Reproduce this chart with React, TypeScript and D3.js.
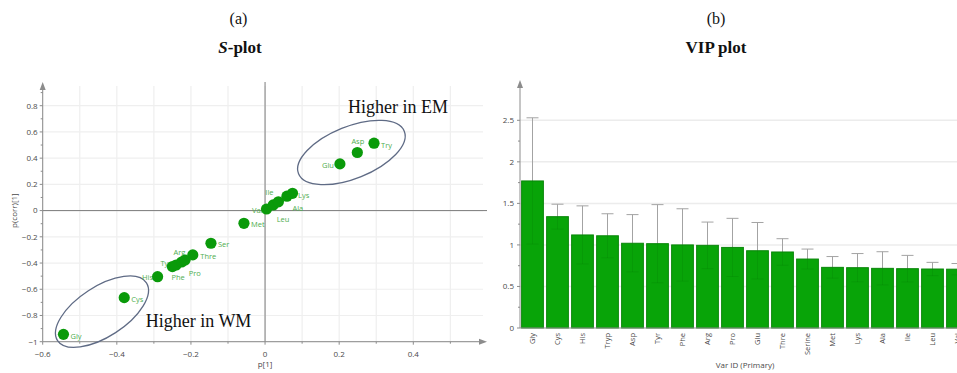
import React from "react";
import * as d3 from "d3";

const W = 957;
const H = 373;

// ---- S-plot data (p[1], p(corr)[1]) ----
const sNames = ["Gly", "Cys", "His", "Tyr", "Phe", "Pro", "Arg", "Thre", "Ser", "Met", "Val", "Leu", "Ile", "Ala", "Lys", "Glu", "Asp", "Try"];
const sP = [-0.544, -0.38, -0.29, -0.25, -0.24, -0.225, -0.216, -0.195, -0.146, -0.057, 0.004, 0.022, 0.036, 0.059, 0.074, 0.202, 0.249, 0.294];
const sPcorr = [-0.944, -0.664, -0.504, -0.427, -0.415, -0.392, -0.378, -0.338, -0.249, -0.097, 0.012, 0.043, 0.067, 0.11, 0.132, 0.356, 0.443, 0.514];
const sXTicks = [-0.6, -0.4, -0.2, 0, 0.2, 0.4];
const sYTicks = [-1, -0.8, -0.6, -0.4, -0.2, 0, 0.2, 0.4, 0.6, 0.8];

// ---- VIP plot data ----
const vipNames = ["Gly", "Cys", "His", "Tryp", "Asp", "Tyr", "Phe", "Arg", "Pro", "Glu", "Thre", "Serine", "Met", "Lys", "Ala", "Ile", "Leu", "Val"];
const vipValues = [1.77, 1.34, 1.12, 1.11, 1.02, 1.015, 1.0, 0.995, 0.97, 0.93, 0.915, 0.83, 0.73, 0.726, 0.718, 0.714, 0.71, 0.708];
const vipErr = [0.76, 0.15, 0.35, 0.265, 0.345, 0.47, 0.435, 0.28, 0.35, 0.34, 0.16, 0.12, 0.13, 0.17, 0.2, 0.16, 0.08, 0.068];
const vipYTicks = [0, 0.5, 1, 1.5, 2, 2.5];

// label placement next to each point: [dx, dy, anchor]
const labelPos: Record<string, [number, number, string]> = {
  Gly: [7, 2, "start"], Cys: [7, 1.5, "start"], His: [-4.5, 1, "end"], Tyr: [-1, -3, "end"],
  Phe: [2, 12.5, "middle"], Pro: [7, 11, "start"], Arg: [-5.5, -7.5, "middle"], Thre: [7.5, 1, "start"],
  Ser: [7, 1, "start"], Met: [7, 1, "start"], Val: [-4, 1.5, "end"], Leu: [3.5, 14, "start"],
  Ile: [-9, -9.5, "middle"], Ala: [5.5, 12.5, "start"], Lys: [5.5, 2, "start"], Glu: [-6, 1, "end"],
  Asp: [0.5, -11.5, "middle"], Try: [7, 2, "start"],
};

const sansFont = "'Open Sans', 'Noto Sans', sans-serif";
const serifFont = "'Liberation Serif', 'DejaVu Serif', serif";
const axisCol = "#8c8c8c";
const tickTextCol = "#4a4a4a";

const SPlot = () => {
  const x = d3.scaleLinear().domain([-0.6, 0.4]).range([42.7, 413.3]);
  const y = d3.scaleLinear().domain([-1, 0.8]).range([341.7, 105.7]);
  const x0 = x(-0.6), y0 = y(-1);
  const xEnd = 487, yTop = 82;
  const minorX = d3.range(-6, 6).map((i) => i / 10);
  const minorY = d3.range(-10, 10).map((i) => i / 10);
  const gridY = d3.range(-10, 10, 2).map((i) => i / 10);

  return (
    <g>
      {/* grid */}
      {minorX.map((v) => (
        <line key={"gx" + v} x1={x(v)} x2={x(v)} y1={yTop + 4} y2={y0} stroke="#efefef" strokeWidth={1.2} />
      ))}
      {gridY.map((v) => (
        <line key={"gy" + v} x1={x0} x2={xEnd - 4} y1={y(v)} y2={y(v)} stroke="#efefef" strokeWidth={1.2} />
      ))}
      {/* zero lines */}
      <line x1={x(0)} x2={x(0)} y1={yTop} y2={y0} stroke="#7d7d7d" strokeWidth={1} />
      <line x1={x0} x2={xEnd} y1={y(0)} y2={y(0)} stroke="#7d7d7d" strokeWidth={1} />

      {/* axes */}
      <line x1={x0} x2={x0} y1={y0} y2={yTop + 3} stroke={axisCol} />
      <path d={`M${x0},${yTop} l-3,8 l6,0 z`} fill={axisCol} />
      <line x1={x0} x2={xEnd - 3} y1={y0} y2={y0} stroke={axisCol} />
      <path d={`M${xEnd},${y0} l-8,-3 l0,6 z`} fill={axisCol} />
      {minorY.map((v) => (
        <line key={"my" + v} x1={x0 - (sYTicks.some((t) => Math.abs(t - v) < 1e-9) ? 3 : 2)} x2={x0} y1={y(v)} y2={y(v)} stroke={axisCol} />
      ))}
      {minorX.map((v) => (
        <line key={"mx" + v} x1={x(v)} x2={x(v)} y1={y0} y2={y0 + (sXTicks.some((t) => Math.abs(t - v) < 1e-9) ? 3 : 2)} stroke={axisCol} />
      ))}
      {sYTicks.map((v) => (
        <text key={"ty" + v} x={x0 - 5} y={y(v)} dy="0.35em" textAnchor="end" fontSize={8} fill={tickTextCol} fontFamily={sansFont}>
          {d3.format("")(v)}
        </text>
      ))}
      {sXTicks.map((v) => (
        <text key={"tx" + v} x={x(v)} y={356.5} textAnchor="middle" fontSize={8} fill={tickTextCol} fontFamily={sansFont}>
          {d3.format("")(v)}
        </text>
      ))}
      <text x={x(0)} y={367} textAnchor="middle" fontSize={8} fill={tickTextCol} fontFamily={sansFont}>p[1]</text>
      <text transform={`translate(17,${y(0)}) rotate(-90)`} textAnchor="middle" fontSize={8} fill={tickTextCol} fontFamily={sansFont}>
        p(corr)[1]
      </text>

      {/* ellipses */}
      <ellipse cx={0} cy={0} rx={57} ry={26} transform={`translate(${x(0.233)},${y(0.443)}) rotate(-22)`} fill="none" stroke="#5f6b85" strokeWidth={1.3} />
      <ellipse cx={0} cy={0} rx={53} ry={25} transform={`translate(${x(-0.44)},${y(-0.771)}) rotate(-33)`} fill="none" stroke="#5f6b85" strokeWidth={1.3} />

      {/* labels then points */}
      {sNames.map((n, i) => {
        const [dx, dy, anchor] = labelPos[n];
        return (
          <text key={"l" + n} x={x(sP[i]) + dx} y={y(sPcorr[i]) + dy} dy="0.35em" textAnchor={anchor} fontSize={7.5} fill="#4fae4f" fontFamily={sansFont}>
            {n}
          </text>
        );
      })}
      {sNames.map((n, i) => (
        <circle key={"p" + n} cx={x(sP[i])} cy={y(sPcorr[i])} r={5.6} fill="#0a9a0a" />
      ))}

      <text x={x(0.224)} y={y(0.743)} fontSize={18} fontFamily={serifFont} fill="#111">Higher in EM</text>
      <text x={x(-0.322)} y={y(-0.89)} fontSize={18} fontFamily={serifFont} fill="#111">Higher in WM</text>
    </g>
  );
};

const VipPlot = () => {
  const xLeft = 520;
  const step = 25;
  const x = d3.scaleBand().domain(vipNames).range([xLeft, xLeft + step * vipNames.length]).paddingInner(0.13).paddingOuter(0.065);
  const y = d3.scaleLinear().domain([0, 2.5]).range([328, 120.3]);
  const minor = d3.range(0, 11).map((i) => i * 0.25);
  const bw = x.bandwidth();

  return (
    <g>
      {vipYTicks.slice(1).map((v) => (
        <line key={"g" + v} x1={xLeft} x2={W} y1={y(v)} y2={y(v)} stroke="#ececec" strokeWidth={1.5} />
      ))}
      {/* error bars (upper part) */}
      {vipNames.map((n, i) => {
        const cx = (x(n) as number) + bw / 2;
        return (
          <g key={"e" + n} stroke="#a3a3a3" strokeWidth={1}>
            <line x1={cx} x2={cx} y1={y(vipValues[i])} y2={y(vipValues[i] + vipErr[i])} />
            <line x1={cx - 6} x2={cx + 6} y1={y(vipValues[i] + vipErr[i])} y2={y(vipValues[i] + vipErr[i])} />
          </g>
        );
      })}
      {vipNames.map((n, i) => (
        <rect key={"b" + n} x={x(n)} y={y(vipValues[i])} width={bw} height={y(0) - y(vipValues[i])} fill="#08a408" stroke="#0a860a" strokeWidth={1} />
      ))}
      {/* error bars (lower part, seen faintly through the bar) */}
      {vipNames.map((n, i) => {
        const cx = (x(n) as number) + bw / 2;
        return (
          <g key={"el" + n} stroke="#046d04" strokeOpacity={0.18} strokeWidth={1}>
            <line x1={cx} x2={cx} y1={y(vipValues[i])} y2={y(vipValues[i] - vipErr[i])} />
            <line x1={cx - 6} x2={cx + 6} y1={y(vipValues[i] - vipErr[i])} y2={y(vipValues[i] - vipErr[i])} />
          </g>
        );
      })}

      {/* axes */}
      <line x1={xLeft} x2={xLeft} y1={y(0)} y2={83} stroke={axisCol} />
      <path d={`M${xLeft},80 l-3,8 l6,0 z`} fill={axisCol} />
      <line x1={xLeft} x2={W} y1={y(0)} y2={y(0)} stroke={axisCol} />
      {minor.map((v, i) => (
        <line key={"m" + v} x1={xLeft - (i % 2 === 0 ? 3 : 2)} x2={xLeft} y1={y(v)} y2={y(v)} stroke={axisCol} />
      ))}
      {vipYTicks.map((v) => (
        <text key={"t" + v} x={xLeft - 6} y={y(v)} dy="0.35em" textAnchor="end" fontSize={8} fill={tickTextCol} fontFamily={sansFont}>
          {d3.format("")(v)}
        </text>
      ))}
      {vipNames.map((n) => (
        <text
          key={"xl" + n}
          transform={`translate(${(x(n) as number) + bw / 2},${y(0) + 5}) rotate(-90)`}
          dy="0.35em"
          textAnchor="end"
          fontSize={7.5}
          fill={tickTextCol}
          fontFamily={sansFont}
        >
          {n}
        </text>
      ))}
      <text x={745} y={368} textAnchor="middle" fontSize={8} fill={tickTextCol} fontFamily={sansFont}>Var ID (Primary)</text>
    </g>
  );
};

export default function App() {
  return (
    <svg width={W} height={H} style={{ position: "absolute", left: 0, top: 0, background: "#fff" }}>
      <text x={238.5} y={23.5} textAnchor="middle" fontSize={16} fontFamily={serifFont} fill="#111">(a)</text>
      <text x={240} y={53} textAnchor="middle" fontSize={17} fontWeight="bold" fontFamily={serifFont} fill="#111">
        <tspan fontStyle="italic">S</tspan>-plot
      </text>
      <text x={716} y={23.5} textAnchor="middle" fontSize={16} fontFamily={serifFont} fill="#111">(b)</text>
      <text x={716} y={53} textAnchor="middle" fontSize={17} fontWeight="bold" fontFamily={serifFont} fill="#111">VIP plot</text>
      <SPlot />
      <VipPlot />
    </svg>
  );
}
